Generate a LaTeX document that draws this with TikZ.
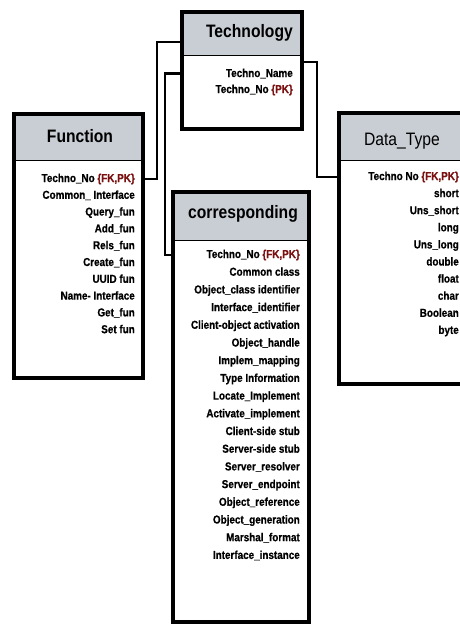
\documentclass[tikz,border=0pt]{standalone}
\usepackage{fontspec}
\setmainfont{Liberation Sans}
\newfontfamily\rowfont{Liberation Sans}[FakeStretch=0.86,FakeBold=0.6]
\newfontfamily\hdrfont{Liberation Sans}[FakeStretch=0.87]
\definecolor{hdrgray}{HTML}{C9CED4}
\definecolor{pkred}{HTML}{7A1010}
\newcommand{\pkmark}[1]{\textcolor{pkred}{#1}}
\begin{document}
\begin{tikzpicture}[x=1pt,y=-1pt,
  tbl/.style={draw=black,line width=4pt,fill=white,anchor=north west,inner sep=0,outer sep=0,
    path picture={\fill[hdrgray] (path picture bounding box.north west) rectangle ([yshift=-#1]path picture bounding box.north east);
      \draw[line width=0.8pt] ([yshift=-#1]path picture bounding box.north west) -- ([yshift=-#1]path picture bounding box.north east);}},
  hdrtxt/.style={font=\hdrfont\fontsize{18}{20}\selectfont\bfseries,inner sep=0,anchor=base},
  hdrreg/.style={font=\hdrfont\fontsize{18}{20}\selectfont,inner sep=0,anchor=base},
  row/.style={font=\rowfont\fontsize{11.5}{13}\selectfont\bfseries,inner sep=0,anchor=base east},
  conn/.style={line width=2.5pt}]
\useasboundingbox (0,0) rectangle (460,625);
\clip (0,0) rectangle (460,625);

% tables
\node[tbl=43pt,minimum width=120pt,minimum height=117pt] (tech) at (182,12) {};
\node[tbl=46pt,minimum width=129pt,minimum height=264pt] (fn) at (14,114) {};
\node[tbl=48pt,minimum width=136pt,minimum height=430pt] (co) at (173,192) {};
\node[tbl=47pt,minimum width=131pt,minimum height=271pt] (dt) at (339,113) {};

% headers
\node[hdrtxt,anchor=base east] (techh) at (293,37) {Technology};
\node[hdrtxt] (fnh) at (80,142) {Function};
\node[hdrtxt] (coh) at (243,218) {corresponding};
\node[hdrreg] (dth) at (402,145) {Data\_Type};

% Technology rows
\node[row] (tech-1) at (293,77) {Techno\_Name};
\node[row] (tech-2) at (293,93) {Techno\_No \pkmark{\{PK\}}};

% Function rows
\foreach \t [count=\i] in {Techno\_No \pkmark{\{FK,PK\}},Common\_ Interface,Query\_fun,Add\_fun,Rels\_fun,Create\_fun,UUID fun,Name- Interface,Get\_fun,Set fun}
  \node[row] (fn-\i) at (135,{182+16.8*(\i-1)}) {\t};

% corresponding rows
\foreach \t [count=\i] in {Techno\_No \pkmark{\{FK,PK\}},Common class,Object\_class identifier,Interface\_identifier,Client-object activation,Object\_handle,Implem\_mapping,Type Information,Locate\_Implement,Activate\_implement,Client-side stub,Server-side stub,Server\_resolver,Server\_endpoint,Object\_reference,Object\_generation,Marshal\_format,Interface\_instance}
  \node[row] (co-\i) at (300,{258+17.7*(\i-1)}) {\t};

% Data_Type rows
\foreach \t [count=\i] in {Techno No \pkmark{\{FK,PK\}},short,Uns\_short,long,Uns\_long,double,float,char,Boolean,byte}
  \node[row] (dt-\i) at (459,{180+17.1*(\i-1)}) {\t};

% connectors
\draw[conn] ([yshift=-30pt]tech.north west) -- ++(-25,0) |- (fn.east |- fn-1);
\draw[conn] (tech.west |- tech-1) -- ++(-17,0) |- (co.west |- co-1);
\draw[conn] ([yshift=-50pt]tech.north east) -- ++(15,0) |- (dt.west |- dt-1);
\end{tikzpicture}
\end{document}
